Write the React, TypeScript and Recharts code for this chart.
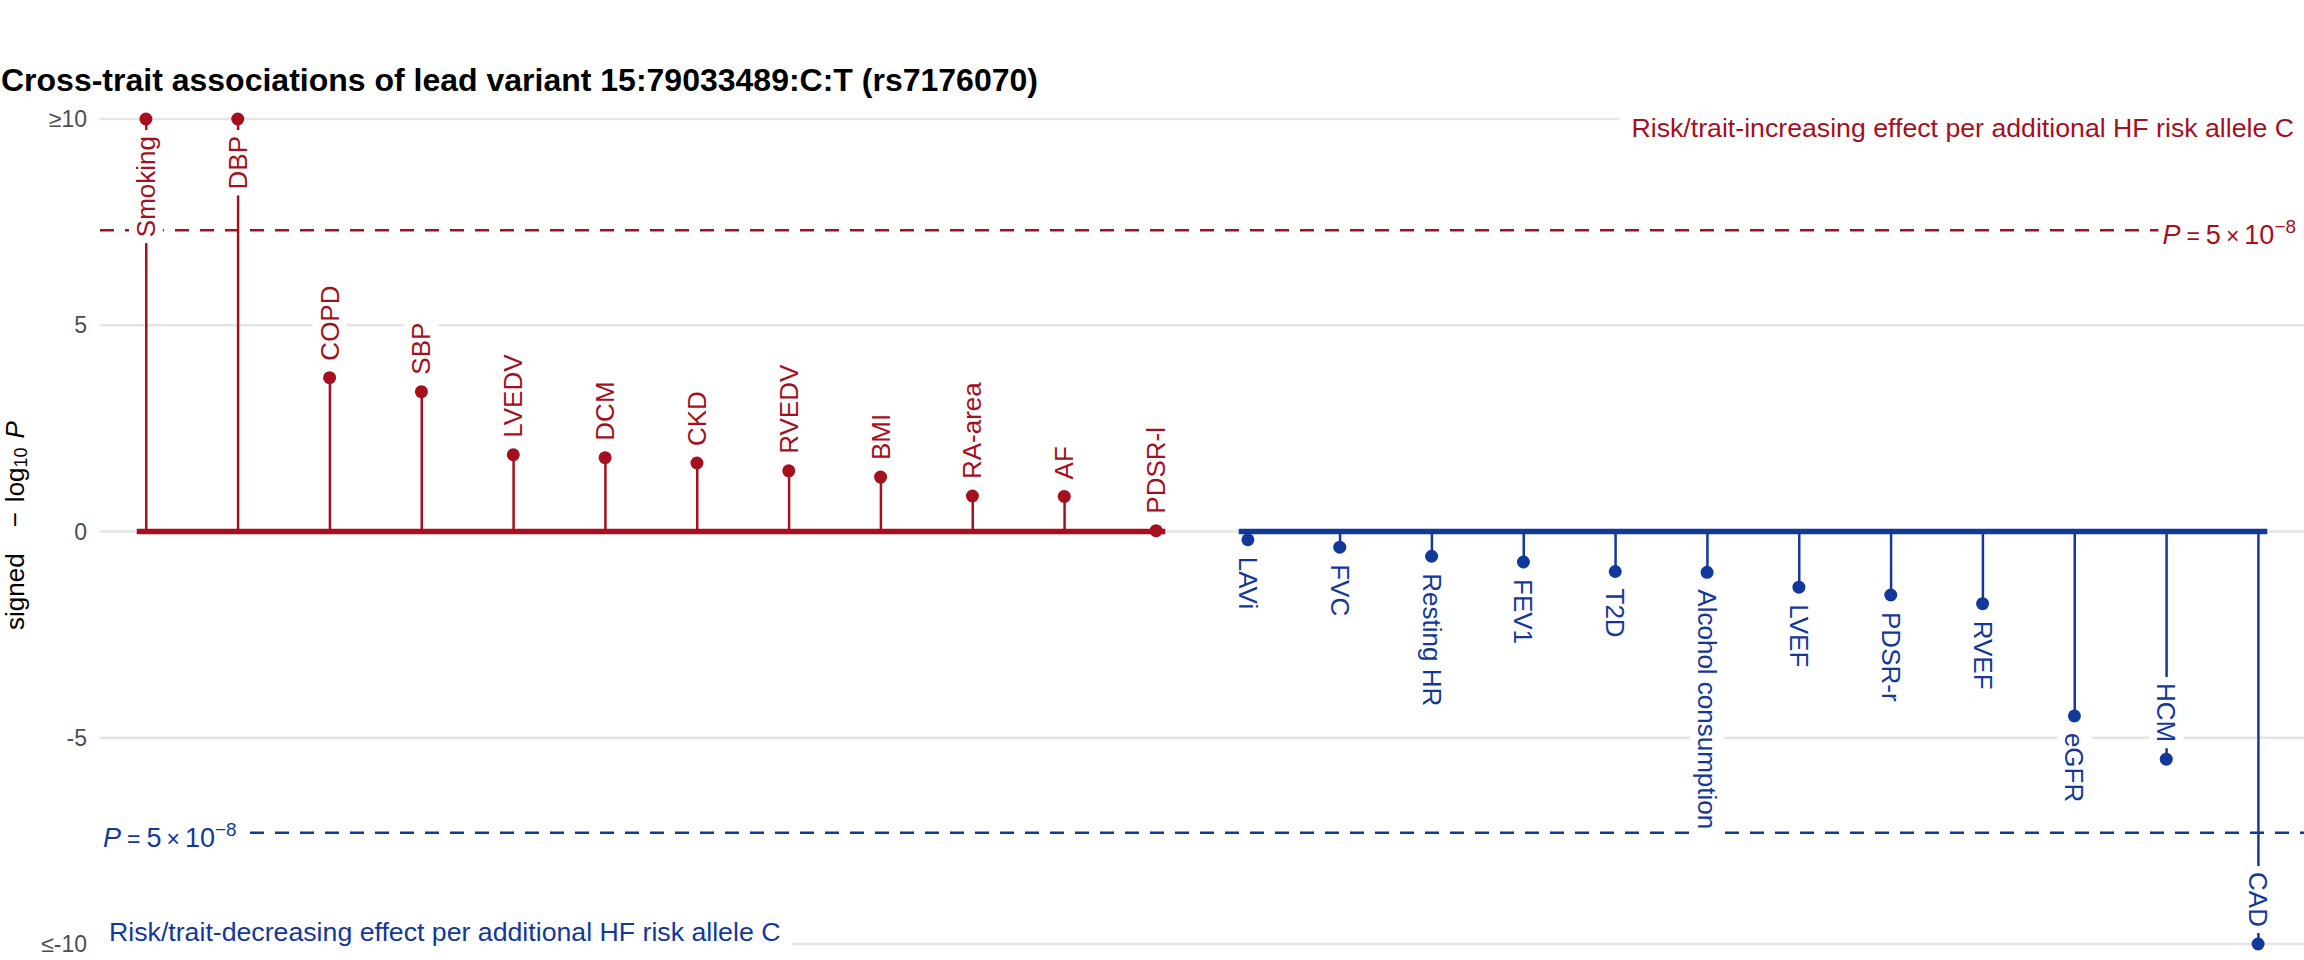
import React from 'react';
import {
  ComposedChart, Bar, Scatter, Cell, XAxis, YAxis, CartesianGrid, ReferenceLine,
} from 'recharts';

const RED = '#A50F1E';
const BLUE = '#12389A';
const GRID = '#E5E5E5';
const FONT = '"Liberation Sans", Arial, Helvetica, sans-serif';

// traits where allele C raises risk / trait value (signed -log10 P, capped at 10)
const UP_TRAITS = ['Smoking', 'DBP', 'COPD', 'SBP', 'LVEDV', 'DCM', 'CKD', 'RVEDV', 'BMI', 'RA-area', 'AF', 'PDSR-l'];
const UP_LOGP = [10, 10, 3.73, 3.39, 1.86, 1.79, 1.66, 1.47, 1.32, 0.86, 0.85, 0.02];

// traits where allele C lowers risk / trait value
const DOWN_TRAITS = ['LAVi', 'FVC', 'Resting HR', 'FEV1', 'T2D', 'Alcohol consumption', 'LVEF', 'PDSR-r', 'RVEF', 'eGFR', 'HCM', 'CAD'];
const DOWN_LOGP = [-0.2, -0.38, -0.6, -0.74, -0.97, -0.99, -1.35, -1.54, -1.75, -4.47, -5.52, -10];

const Y_TICKS = [-10, -5, 0, 5, 10];
const CAP = 10;
const GWS = -Math.log10(5e-8);
// labels drawn between the point and zero instead of beyond the point
const INWARD = ['Smoking', 'DBP', 'HCM', 'CAD'];

const rows = [
  ...UP_TRAITS.map((name, i) => ({ x: i, name, value: UP_LOGP[i], color: RED })),
  ...DOWN_TRAITS.map((name, i) => ({ x: UP_TRAITS.length + i, name, value: DOWN_LOGP[i], color: BLUE })),
];
const nUp = UP_TRAITS.length;
const nAll = rows.length;
const BASE_PAD = 0.1;

let ctx: CanvasRenderingContext2D | null = null;
function textWidth(s: string, size: number, style = 'normal') {
  if (!ctx) ctx = document.createElement('canvas').getContext('2d');
  if (!ctx) return s.length * size * 0.55;
  ctx.font = `${style} ${size}px "Liberation Sans", Arial, sans-serif`;
  return ctx.measureText(s).width;
}

const LABEL_SIZE = 26;
const GAP = 17;
const PAD = 6;

function TraitLabel(props: any) {
  const { cx, cy, payload } = props;
  if (cx == null || cy == null) return null;
  const up = payload.value > 0;
  const inward = INWARD.includes(payload.name);
  const above = up ? !inward : inward;
  const rot = up ? -90 : 90;
  const ay = above ? cy - GAP : cy + GAP;
  const anchor = (above && rot === -90) || (!above && rot === 90) ? 'start' : 'end';
  const w = textWidth(payload.name, LABEL_SIZE);
  const h = LABEL_SIZE + 8;
  const rx = anchor === 'start' ? -PAD : -w - PAD;
  return (
    <g transform={`translate(${cx},${ay}) rotate(${rot})`}>
      <rect x={rx} y={-h / 2} width={w + 2 * PAD} height={h} fill="#fff" />
      <text x={0} y={0} textAnchor={anchor} dominantBaseline="central" fontFamily={FONT} fontSize={LABEL_SIZE} fill={payload.color}>
        {payload.name}
      </text>
    </g>
  );
}

function TraitDot(props: any) {
  const { cx, cy, payload } = props;
  if (cx == null || cy == null) return null;
  return <circle cx={cx} cy={cy} r={6.5} fill={payload.color} />;
}

function YTitle({ viewBox }: any) {
  const x = viewBox.x + 15;
  const y = viewBox.y + viewBox.height / 2 - 6;
  return (
    <text transform={`rotate(-90, ${x}, ${y})`} x={x} y={y} textAnchor="middle" dominantBaseline="central" fontFamily={FONT} fontSize={26} fill="#000">
      <tspan>signed</tspan>
      <tspan dx={26}>−</tspan>
      <tspan dx={10}>log</tspan>
      <tspan fontSize={18} dy={6}>10</tspan>
      <tspan dy={-6} dx={9} fontStyle="italic">P</tspan>
    </text>
  );
}

function ThresholdLabel({ viewBox, color, align }: any) {
  const big = 27;
  const small = 23;
  const sup = 19;
  const w =
    textWidth('P', big, 'italic') + 6 + textWidth('=', small) + 6 + textWidth('5', big) + 5 +
    textWidth('×', small) + 5 + textWidth('10', big) + textWidth('−8', sup);
  const right = viewBox.x + viewBox.width;
  const y = viewBox.y;
  const start = align === 'right' ? right - 8 - w : viewBox.x + 3;
  const boxX = align === 'right' ? start - 4 : viewBox.x;
  const boxW = align === 'right' ? right - boxX : start + w + 7 - boxX;
  return (
    <g>
      <rect x={boxX} y={y - 16} width={boxW} height={36} fill="#fff" />
      <text x={start} y={y + 14} fontFamily={FONT} fontSize={big} fill={color}>
        <tspan fontStyle="italic">P</tspan>
        <tspan dx={6} fontSize={small}>=</tspan>
        <tspan dx={6}>5</tspan>
        <tspan dx={5} fontSize={small}>×</tspan>
        <tspan dx={5}>10</tspan>
        <tspan dy={-11} fontSize={sup}>−8</tspan>
      </text>
    </g>
  );
}

function EffectNote({ viewBox, text, color, align }: any) {
  const size = 26.7;
  const w = textWidth(text, size);
  const right = viewBox.x + viewBox.width;
  if (align === 'right') {
    const end = right - 10;
    return (
      <g>
        <rect x={end - w - 12} y={viewBox.y - 6} width={right - (end - w - 12)} height={34} fill="#fff" />
        <text x={end} y={viewBox.y + 18} textAnchor="end" fontFamily={FONT} fontSize={size} fill={color}>{text}</text>
      </g>
    );
  }
  const start = viewBox.x + 9;
  return (
    <g>
      <rect x={viewBox.x} y={viewBox.y - 26} width={w + 21} height={34} fill="#fff" />
      <text x={start} y={viewBox.y - 3} fontFamily={FONT} fontSize={size} fill={color}>{text}</text>
    </g>
  );
}

const fmtY = (v: number) => (v >= CAP ? '≥10' : v <= -CAP ? '≤-10' : String(v));

export default function App() {
  return (
    <div style={{ position: 'relative', width: 2304, height: 960, background: '#fff' }}>
      <style>{'body{margin:0}'}</style>
      <div
        style={{
          position: 'absolute', left: 1, top: 64, fontFamily: FONT, fontWeight: 700,
          fontSize: 32, lineHeight: '32px', color: '#000', whiteSpace: 'nowrap', zIndex: 2,
        }}
      >
        Cross-trait associations of lead variant 15:79033489:C:T (rs7176070)
      </div>
      <div style={{ position: 'absolute', left: 0, top: 0 }}>
        <ComposedChart width={2304} height={960} data={rows} margin={{ top: 119, right: 0, bottom: 16, left: 0 }}>
          <CartesianGrid vertical={false} stroke={GRID} strokeWidth={2.5} />
          <XAxis type="number" dataKey="x" domain={[-0.5, nAll - 0.5]} hide />
          <YAxis
            type="number"
            domain={[-CAP, CAP]}
            ticks={Y_TICKS}
            interval={0}
            tickFormatter={fmtY}
            axisLine={false}
            tickLine={false}
            tickSize={0}
            tickMargin={13}
            width={100}
            tick={{ fontSize: 23, fill: '#4D4D4D', fontFamily: FONT }}
            label={(p: any) => <YTitle viewBox={p.viewBox} />}
          />
          <Bar dataKey="value" barSize={2.5} isAnimationActive={false}>
            {rows.map((r) => <Cell key={r.name} fill={r.color} />)}
          </Bar>
          <ReferenceLine
            segment={[{ x: -BASE_PAD, y: 0 }, { x: nUp - 1 + BASE_PAD, y: 0 }]}
            stroke={RED} strokeWidth={5.5}
          />
          <ReferenceLine
            segment={[{ x: nUp - BASE_PAD, y: 0 }, { x: nAll - 1 + BASE_PAD, y: 0 }]}
            stroke={BLUE} strokeWidth={5.5}
          />
          <Scatter dataKey="value" shape={TraitLabel} isAnimationActive={false} />
          <ReferenceLine
            y={GWS} stroke={RED} strokeWidth={2.5} strokeDasharray="14 11"
            label={(p: any) => <ThresholdLabel viewBox={p.viewBox} color={RED} align="right" />}
          />
          <ReferenceLine
            y={-GWS} stroke={BLUE} strokeWidth={2.5} strokeDasharray="14 11"
            label={(p: any) => <ThresholdLabel viewBox={p.viewBox} color={BLUE} align="left" />}
          />
          <ReferenceLine
            y={CAP} strokeOpacity={0}
            label={(p: any) => (
              <EffectNote viewBox={p.viewBox} color={RED} align="right"
                text="Risk/trait-increasing effect per additional HF risk allele C" />
            )}
          />
          <ReferenceLine
            y={-CAP} strokeOpacity={0}
            label={(p: any) => (
              <EffectNote viewBox={p.viewBox} color={BLUE} align="left"
                text="Risk/trait-decreasing effect per additional HF risk allele C" />
            )}
          />
          <Scatter dataKey="value" shape={TraitDot} isAnimationActive={false} />
        </ComposedChart>
      </div>
    </div>
  );
}
